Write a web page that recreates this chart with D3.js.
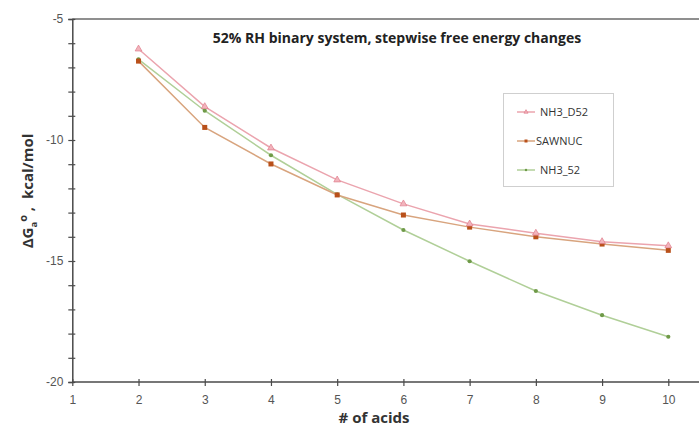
<!DOCTYPE html>
<html>
<head>
<meta charset="utf-8">
<script src="https://cdn.jsdelivr.net/npm/d3@7/dist/d3.min.js"></script>
<style>
  html, body { margin: 0; padding: 0; background: #fff; }
  svg { display: block; font-family: "Open Sans", "Liberation Sans", sans-serif; }
</style>
</head>
<body>
<svg id="chart" width="699" height="426"></svg>
<script>
// Number of acids in the cluster
const acids = [2, 3, 4, 5, 6, 7, 8, 9, 10];

// Stepwise free energy changes, kcal/mol
const nh3D52 = [-6.24, -8.62, -10.33, -11.65, -12.64, -13.47, -13.85, -14.2, -14.37];
const sawnuc = [-6.74, -9.48, -10.99, -12.27, -13.1, -13.6, -14.0, -14.3, -14.56];
const nh352  = [-6.67, -8.79, -10.63, -12.25, -13.72, -15.01, -16.24, -17.24, -18.13];

const seriesNames = ["NH3_D52", "SAWNUC", "NH3_52"];
const xTicks = [1, 2, 3, 4, 5, 6, 7, 8, 9, 10];
const yTicks = [-20, -15, -10, -5];

const series = [
  { name: seriesNames[0], values: nh3D52, line: "#eba4ae", fill: "#f2b4bc", stroke: "#e07c8c", shape: "triangle" },
  { name: seriesNames[1], values: sawnuc, line: "#d8a47e", fill: "#b9501a", shape: "square" },
  { name: seriesNames[2], values: nh352,  line: "#b0cf98", fill: "#6f9a48", shape: "circle" }
];

const svg = d3.select("#chart");
const plotLeft = 72.3, plotRight = 668.3, plotTop = 19, plotBottom = 382;

const x = d3.scaleLinear().domain([1, 10]).range([plotLeft, plotRight]);
const y = d3.scaleLinear().domain([-20, -5]).range([plotBottom, plotTop]);

const axisColor = "#4a4a4a";

// Top frame line
svg.append("line")
  .attr("x1", plotLeft).attr("x2", 699).attr("y1", plotTop).attr("y2", plotTop)
  .attr("stroke", "#6a6a6a").attr("stroke-width", 1.5);

// Y axis: ticks every unit, labels every five
const yAxis = d3.axisLeft(y)
  .tickValues(d3.range(-20, -4, 1))
  .tickSize(4)
  .tickFormat(d => yTicks.includes(d) ? d : "");
const gy = svg.append("g").attr("transform", `translate(${plotLeft},0)`).call(yAxis);
gy.select(".domain").attr("stroke", axisColor).attr("stroke-width", 1.5);
gy.selectAll(".tick line").attr("x1", 3).attr("x2", -4).attr("stroke", axisColor).attr("stroke-width", 1.2);
gy.selectAll(".tick text").attr("x", -9).attr("fill", "#555").style("font-size", "12px");

// X axis
const xAxis = d3.axisBottom(x).tickValues(xTicks).tickSize(4).tickFormat(d3.format("d"));
const gx = svg.append("g").attr("transform", `translate(0,${plotBottom})`).call(xAxis);
gx.select(".domain").remove();
gx.selectAll(".tick line").attr("y1", -3).attr("y2", 4).attr("stroke", axisColor).attr("stroke-width", 1.2);
gx.selectAll(".tick text").attr("y", 13).attr("fill", "#555").style("font-size", "12px");
svg.append("line")
  .attr("x1", plotLeft).attr("x2", 699).attr("y1", plotBottom).attr("y2", plotBottom)
  .attr("stroke", axisColor).attr("stroke-width", 1.5);

// Axis titles
svg.append("text")
  .attr("x", 374).attr("y", 423)
  .attr("text-anchor", "middle")
  .attr("fill", "#333").style("font-size", "15px").style("font-weight", "bold")
  .text("# of acids");

const yLab = svg.append("text")
  .attr("transform", "translate(33,191) rotate(-90)")
  .attr("text-anchor", "middle")
  .attr("fill", "#333").style("font-size", "15px").style("font-weight", "bold");
yLab.append("tspan").text("\u0394G");
yLab.append("tspan").attr("dy", 4).style("font-size", "9.5px").text("a");
yLab.append("tspan").attr("dy", -10).style("font-size", "11px").text("o");
yLab.append("tspan").attr("dy", 6).attr("xml:space", "preserve").text(" ,  kcal/mol");

// Chart title
svg.append("text")
  .attr("x", 397).attr("y", 43)
  .attr("text-anchor", "middle")
  .attr("fill", "#222").style("font-size", "14px").style("font-weight", "bold")
  .text("52% RH binary system, stepwise free energy changes");

// Marker drawing helper
function marker(g, s, cx, cy, scale) {
  const k = scale || 1;
  if (s.shape === "triangle") {
    g.append("path")
      .attr("d", d3.symbol(d3.symbolTriangle, 20 * k * k)())
      .attr("transform", `translate(${cx},${cy})`)
      .attr("fill", s.fill).attr("stroke", s.stroke).attr("stroke-width", 0.7);
  } else if (s.shape === "square") {
    g.append("rect")
      .attr("x", cx - 2.5 * k).attr("y", cy - 2.5 * k)
      .attr("width", 5 * k).attr("height", 5 * k)
      .attr("fill", s.fill);
  } else {
    g.append("circle").attr("cx", cx).attr("cy", cy).attr("r", 2.1 * k).attr("fill", s.fill);
  }
}

const line = d3.line().x((d, i) => x(acids[i])).y(d => y(d));

// Draw series back to front: green, brown, pink
const order = [2, 1, 0];
order.forEach(j => {
  const s = series[j];
  const g = svg.append("g");
  g.append("path")
    .datum(s.values)
    .attr("d", line)
    .attr("fill", "none")
    .attr("stroke", s.line)
    .attr("stroke-width", 1.5);
  s.values.forEach((v, i) => marker(g, s, x(acids[i]), y(v)));
});

// Legend
const lg = svg.append("g");
lg.append("rect")
  .attr("x", 503.5).attr("y", 93.5).attr("width", 110).attr("height", 93)
  .attr("fill", "#fff").attr("stroke", "#cfcfcf").attr("stroke-width", 1);
const legendY = [112, 141, 170];
series.forEach((s, i) => {
  const ly = legendY[i];
  lg.append("line")
    .attr("x1", 517).attr("x2", 535).attr("y1", ly).attr("y2", ly)
    .attr("stroke", s.line).attr("stroke-width", 1.5);
  marker(lg, s, 526, ly, 0.6);
  lg.append("text")
    .attr("x", i === 1 ? 536 : 540).attr("y", ly + 4)
    .attr("fill", "#333").style("font-size", "11px")
    .text(s.name);
});
</script>
</body>
</html>
